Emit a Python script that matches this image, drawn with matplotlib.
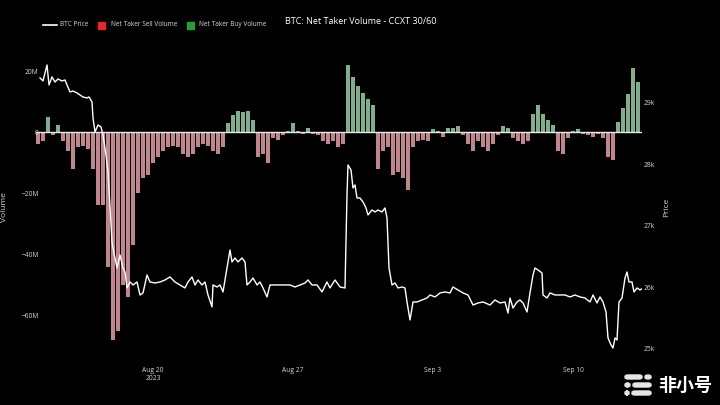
import numpy as np
import matplotlib.pyplot as plt
from matplotlib.lines import Line2D
from matplotlib.patches import Rectangle, FancyBboxPatch

plt.rcParams['font.family'] = ['Open Sans', 'DejaVu Sans']

# net taker volume (millions), 6-hour bins starting 2023-08-14 06:00
net_volume = [
    -4, -3, 5, -1, 2.5, -3, -6, -12, -5, -4.5,
    -5.5, -12, -24, -24, -44, -68, -65, -50, -54, -37,
    -20, -15, -14, -10, -8, -6, -5, -4.5, -5, -7,
    -8, -7, -5, -4, -4.5, -6, -7, -5, 3, 5.5,
    7, 6.5, 7, 4, -8, -7, -10, -2, -2.5, -1,
    0.5, 3, 0.5, -0.5, 1.5, -0.5, -1, -3, -4, -3,
    -5, -4, 22, 18, 15, 13, 11, 9, -12, -6,
    -5, -14, -13, -15, -19, -5, -3, -2.5, -3, 1,
    0.5, -1.5, 1.5, 1.5, 2, -1, -4, -6, -3, -5,
    -6, -4, -1, 2, 1.5, -2, -3, -4, -3, 6,
    9, 6, 4, 2.5, -6, -7, -2, 0.5, 1, -0.5,
    -1, -1.5, -0.5, -2, -8, -9, 3.5, 8, 12.5, 21,
    16.5,
]

# BTC price: hours since 2023-08-14 00:00, price in USD
price_hours = [
    8.4, 12, 16.8, 19.2, 22.8, 26.4, 30, 34.8, 38.4, 40.8,
    44.4, 48, 52.8, 56.4, 60, 64.8, 67.2, 70.8, 72, 74.4,
    78, 81.6, 84, 87.6, 90, 92.4, 94.8, 96, 98.4, 100.8,
    104.4, 108, 110.4, 112.8, 116.4, 120, 124.8, 128.4, 132, 136.8,
    140.4, 146.4, 152.4, 158.4, 164.4, 170.4, 176.4, 182.4, 186, 190.8,
    194.4, 198, 202.8, 206.4, 210, 214.8, 216, 220.8, 224.4, 228,
    232.8, 236.4, 238.8, 242.4, 246, 250.8, 254.4, 256.8, 260.4, 264,
    268.8, 272.4, 276, 280.8, 284.4, 290.4, 296.4, 302.4, 308.4, 314.4,
    320.4, 326.4, 330, 334.8, 340.8, 346.8, 352.8, 356.4, 362.4, 368.4,
    374.4, 376.8, 378, 381.6, 384, 386.4, 388.8, 392.4, 396, 399.6,
    402, 406.8, 410.4, 414, 418.8, 422.4, 424.8, 427.2, 430.8, 434.4,
    438, 442.8, 446.4, 448.8, 452.4, 456, 460.8, 466.8, 472.8, 476.4,
    482.4, 488.4, 494.4, 500.4, 504, 510, 516, 522, 528, 534,
    540, 548.4, 554.4, 560.4, 566.4, 570, 572.4, 576, 580.8, 584.4,
    588, 592.8, 596.4, 600, 602.4, 606, 610.8, 612, 616.8, 620.4,
    626.4, 632.4, 638.4, 644.4, 650.4, 656.4, 662.4, 668.4, 672, 676.8,
    680.4, 684, 687.6, 690, 693.6, 696, 698.4, 700.8, 703.2, 706.8,
    710.4, 712.8, 715.2, 718.8, 721.2, 724.8, 728.4, 732,
]
btc_price = [
    29407, 29358, 29618, 29293, 29423, 29341, 29390, 29358, 29374, 29293,
    29179, 29195, 29163, 29130, 29098, 29081, 29098, 29016, 28756, 28528,
    28642, 28610, 28480, 28154, 27878, 27293, 26740, 26642, 26480, 26317,
    26528, 26317, 26252, 25992, 26089, 26041, 26089, 25878, 25911, 26203,
    26089, 26073, 26089, 26122, 26171, 26089, 26041, 25992, 26089, 26171,
    26041, 26122, 26041, 26089, 25878, 25683, 26041, 26008, 26041, 25927,
    26317, 26610, 26415, 26480, 26415, 26480, 26415, 26041, 26089, 26154,
    26041, 26089, 25992, 25846, 26041, 26041, 26041, 26041, 26041, 26008,
    26041, 26073, 26122, 26041, 26041, 25927, 26089, 25992, 26122, 26008,
    25992, 27504, 27992, 27911, 27618, 27667, 27455, 27455, 27390, 27293,
    27179, 27260, 27228, 27260, 27228, 27293, 27130, 26317, 26041, 26073,
    25992, 26008, 25992, 25764, 25472, 25764, 25764, 25797, 25829, 25878,
    25846, 25911, 25927, 25911, 26008, 25959, 25911, 25878, 25715, 25748,
    25764, 25715, 25797, 25748, 25764, 25585, 25829, 25667, 25764, 25797,
    25748, 25602, 25911, 26203, 26317, 26285, 26236, 25878, 25829, 25911,
    25878, 25878, 25878, 25846, 25878, 25846, 25829, 25764, 25878, 25748,
    25846, 25764, 25602, 25179, 25065, 25016, 25179, 25146, 25764, 25829,
    26154, 26252, 26089, 26089, 25927, 25992, 25959, 25992,
]

vol_ticks = [20, 0, -20, -40, -60]
vol_labels = ['20M', '0', '\u221220M', '\u221240M', '\u221260M']
price_ticks = [25000, 26000, 27000, 28000, 29000]
price_labels = ['25k', '26k', '27k', '28k', '29k']
date_ticks = ['2023-08-20', '2023-08-27', '2023-09-03', '2023-09-10']
date_labels = ['Aug 20\n2023', 'Aug 27', 'Sep 3', 'Sep 10']
legend_names = ['BTC Price', 'Net Taker Sell Volume', 'Net Taker Buy Volume']

base = np.datetime64('2023-08-14T00:00')
vol_times = np.datetime64('2023-08-14T06:00') + np.arange(len(net_volume)) * np.timedelta64(6, 'h')
price_times = base + (np.array(price_hours) * 60).astype(int) * np.timedelta64(1, 'm')
vol = np.array(net_volume)

sell_col = '#c0868d'
buy_col = '#82ae8e'
txt = '#d9d9d9'

fig = plt.figure(figsize=(7.2, 4.05), dpi=100, facecolor='black')
W, H = 720, 405
ax = fig.add_axes([36 / W, 1 - 355 / H, (642 - 36) / W, 296 / H])
ax.set_facecolor('black')

colors = [buy_col if v >= 0 else sell_col for v in vol]
ax.bar(vol_times, vol, width=0.25 * 0.97, color=colors, linewidth=0)
ax.axhline(0, color='#e8e8e8', lw=1.0, zorder=3)

ax.set_ylim(-73, 24)
ax.set_yticks(vol_ticks)
ax.set_yticklabels(vol_labels)
ax.set_xlim(base + np.timedelta64(216, 'm'), base + np.timedelta64(int(730.8 * 60), 'm'))
ax.set_xticks([np.datetime64(d + 'T00:00') for d in date_ticks])
ax.set_xticklabels(date_labels)
ax.set_ylabel('Volume', color=txt, fontsize=6)
ax.yaxis.set_label_coords((8 - 36) / 606, 0.5)

ax2 = ax.twinx()
ax2.plot(price_times, btc_price, color='white', lw=1.0, zorder=4)
ax2.set_ylim(24902, 29715)
ax2.set_yticks(price_ticks)
ax2.set_yticklabels(price_labels)
ax2.set_ylabel('Price', color=txt, fontsize=6)
ax2.yaxis.set_label_coords((663 - 36) / 606, 0.5)

for a in (ax, ax2):
    for s in a.spines.values():
        s.set_visible(False)
    a.tick_params(colors=txt, labelsize=4.8, length=0)
ax.tick_params(axis='y', pad=-2)
ax2.tick_params(axis='y', pad=1)
ax.tick_params(axis='x', pad=9)

# legend, laid out like the plotly horizontal legend
ly = 1 - 25 / H
fig.add_artist(Line2D([43 / W, 57 / W], [ly, ly], color='white', lw=1.2, transform=fig.transFigure))
fig.text(60 / W, ly, legend_names[0], color=txt, fontsize=4.7, va='center')
fig.add_artist(Rectangle((98 / W, ly - 3.5 / H), 7 / W, 7 / H, color='#e3262f', transform=fig.transFigure))
fig.text(111 / W, ly, legend_names[1], color=txt, fontsize=4.7, va='center')
fig.add_artist(Rectangle((187 / W, ly - 3.5 / H), 7 / W, 7 / H, color='#2c9a38', transform=fig.transFigure))
fig.text(199 / W, ly, legend_names[2], color=txt, fontsize=4.7, va='center')

fig.text(285 / W, 1 - 21 / H, 'BTC: Net Taker Volume - CCXT 30/60',
         color='white', fontsize=6.5, va='center', ha='left')

# watermark
for x0, y0, w in [(625, 375, 17), (645, 375, 6), (625, 383, 5), (633, 383, 18), (625, 391, 4), (632, 391, 19)]:
    fig.add_artist(FancyBboxPatch((x0 / W, 1 - (y0 + 4) / H), w / W, 4 / H,
                                  boxstyle='round,pad=0,rounding_size=0.004',
                                  color='#e6e6e6', transform=fig.transFigure))
fig.text(712 / W, 1 - 385 / H, '非小号', color='white', fontsize=13, fontweight='bold',
         ha='right', va='center', family=['Noto Sans CJK SC', 'DejaVu Sans'])

fig.savefig('out.png', dpi=100, facecolor='black')
